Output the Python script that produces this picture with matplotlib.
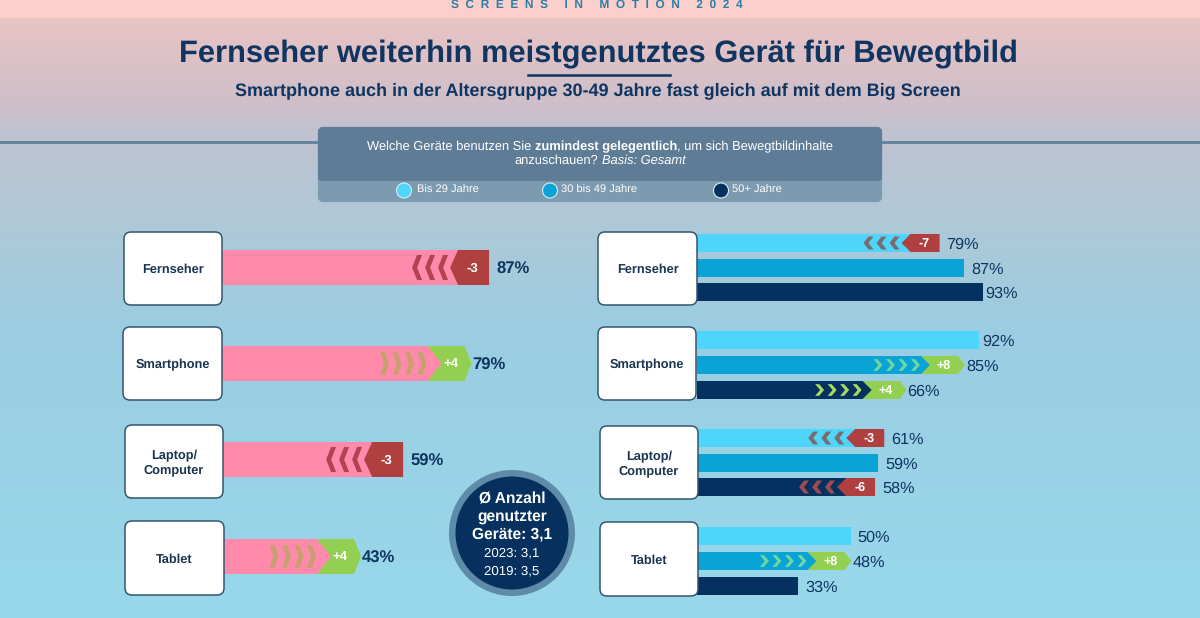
import numpy as np
import matplotlib
matplotlib.use("Agg")
import matplotlib.pyplot as plt
from matplotlib.patches import FancyBboxPatch, Circle, Polygon, Rectangle

plt.rcParams["font.family"] = ["Liberation Sans", "DejaVu Sans"]
plt.rcParams["text.hinting"] = "no_hinting"

# ---------------------------------------------------------------------------
# Data
# ---------------------------------------------------------------------------
devices = ["Fernseher", "Smartphone", "Laptop/\nComputer", "Tablet"]
age_groups = ["Bis 29 Jahre", "30 bis 49 Jahre", "50+ Jahre"]

total_values = [87, 79, 59, 43]
total_deltas = [-3, 4, -3, 4]

young_values = [79, 92, 61, 50]
young_deltas = [-7, 0, -3, 0]
middle_values = [87, 85, 59, 48]
middle_deltas = [0, 8, 0, 8]
old_values = [93, 66, 58, 33]
old_deltas = [0, 4, -6, 0]

avg_lines = ["Ø Anzahl", "genutzter", "Geräte: 3,1"]
avg_history = ["2023: 3,1", "2019: 3,5"]

# ---------------------------------------------------------------------------
# Layout and colours
# ---------------------------------------------------------------------------
W, H = 1200, 618
PX_PER_PCT = 3.07
NAVY = "#0f3560"
PINK = "#ff8aab"
RED = "#b04040"
GREEN = "#93cf50"
AGE_COLORS = ["#4dd5fb", "#0aa3d6", "#04315f"]
CHEVRON_NEG = ["#7d6a6a", None, "#a04a55"]
CHEVRON_POS = [None, "#6ed8a0", "#a8dc60"]

left_rows = [267.5, 363.5, 459.5, 556.5]
right_rows = [[243, 268, 292], [340, 365, 390], [438, 463, 487], [536, 561, 586]]
left_cards = [(124, 232, 98, 73), (123, 327, 99, 73), (125, 425, 98, 73), (125, 521, 99, 74)]
right_cards = [(598, 232, 99, 73), (598, 327, 98, 73), (600, 426, 98, 73), (600, 522, 98, 74)]

fig = plt.figure(figsize=(W / 100, H / 100), dpi=100)

# background gradient
ax_bg = fig.add_axes([0, 0, 1, 1], zorder=0)
ax_bg.set_xlim(0, W)
ax_bg.set_ylim(H, 0)
ax_bg.axis("off")
ys = np.arange(H)
stops = [17, 100, 140, 220, 330, 618]
reds = [234, 207, 190, 175, 155, 152]
greens = [196, 191, 195, 200, 205, 216]
blues = [196, 201, 210, 215, 225, 235]
grad = np.stack([np.interp(ys, stops, c) for c in (reds, greens, blues)], axis=1) / 255
ax_bg.imshow(grad[:, None, :], extent=[0, W, H, 0], aspect="auto", zorder=0)
ax_bg.add_patch(Rectangle((0, 0), W, 17, color="#fbcfcb", zorder=1))
ax_bg.plot([0, W], [142, 142], color="#5f7f9b", lw=2, zorder=1)


def bar_axes(x_start, width):
    ax = fig.add_axes([x_start / W, 0, width / W, 1], zorder=1)
    ax.patch.set_alpha(0)
    ax.set_xlim(0, width / PX_PER_PCT)
    ax.set_ylim(H, 0)
    ax.axis("off")
    return ax


def chevrons(ax, y, x_end, count, step, width, height, thick, color, pointing):
    # x_end is a pixel offset from the bar origin
    U = 1 / PX_PER_PCT
    for i in range(count):
        x0 = x_end - step * (count - 1 - i) - width
        if pointing > 0:
            pts = [(x0, y - height / 2), (x0 + thick, y - height / 2),
                   (x0 + width, y), (x0 + thick, y + height / 2),
                   (x0, y + height / 2), (x0 + width - thick, y)]
        else:
            pts = [(x0 + width, y - height / 2), (x0 + width - thick, y - height / 2),
                   (x0, y), (x0 + width - thick, y + height / 2),
                   (x0 + width, y + height / 2), (x0 + thick, y)]
        ax.add_patch(Polygon([(px * U, py) for px, py in pts], closed=True,
                             color=color, lw=0, zorder=3))


def draw_bar(ax, y, value, delta, height, color, large, neg_col, pos_col, font):
    U = 1 / PX_PER_PCT
    ax.barh(y, value, height=height, color=color, zorder=2)
    end = value * PX_PER_PCT
    h2 = height / 2
    pad = 7
    if delta < 0:
        tip, shoulder = (39, 31) if large else (38, 29)
        pts = [(end, y - h2), (end - shoulder, y - h2), (end - tip, y),
               (end - shoulder, y + h2), (end, y + h2)]
        ax.add_patch(Polygon([(a * U, b) for a, b in pts], closed=True, color=RED, lw=0, zorder=4))
        chev_h = height * 0.72
        chevrons(ax, y, end - tip - 2, 3, 13, 10, chev_h, 5, neg_col, -1)
        ax.text((end - shoulder + 14) * U, y + 0.5, f"{delta}", color="white", fontsize=font,
                fontweight="bold", ha="center", va="center", zorder=5)
    elif delta > 0:
        left, notch = (37, 23) if large else (37, 28)
        pts = [(end - left, y - h2), (end, y - h2), (end + 7, y), (end, y + h2),
               (end - left, y + h2), (end - notch, y)]
        ax.add_patch(Polygon([(a * U, b) for a, b in pts], closed=True, color=GREEN, lw=0, zorder=4))
        chev_h = height * 0.65
        chevrons(ax, y, end - left - 1, 4, 12.5, 9, chev_h, 5 if large else 4, pos_col, 1)
        ax.text((end - 14) * U, y + 0.5, f"+{delta}", color="white", fontsize=font,
                fontweight="bold", ha="center", va="center", zorder=5)
        pad = 8
    if value > 90:
        pad = 3
    ax.annotate(f"{value}%", xy=(value, y), xytext=(pad, -1.5), textcoords="offset pixels",
                color=NAVY, fontsize=12 if large else 11.7,
                fontweight="bold" if large else "normal", ha="left", va="center", zorder=5)


# left panel: all respondents
ax_left = bar_axes(222, 320)
for i, value in enumerate(total_values):
    draw_bar(ax_left, left_rows[i], value, total_deltas[i], 35, PINK, True,
             "#b5404f", "#c8a070", 9.5)

# right panel: per age group
ax_right = bar_axes(697, 330)
series = [young_values, middle_values, old_values]
series_deltas = [young_deltas, middle_deltas, old_deltas]
for g, vals in enumerate(series):
    for i, value in enumerate(vals):
        draw_bar(ax_right, right_rows[i][g], value, series_deltas[g][i], 18, AGE_COLORS[g], False,
                 CHEVRON_NEG[g], CHEVRON_POS[g], 9)

# overlay: headings, cards, legend, circle
ax = fig.add_axes([0, 0, 1, 1], zorder=2)
ax.patch.set_alpha(0)
ax.set_xlim(0, W)
ax.set_ylim(H, 0)
ax.axis("off")

ax.text(597, 4.5, "S  C  R  E  E  N  S     I  N     M  O  T  I  O  N     2  0  2  4", color="#2e7fa8",
        fontsize=8.6, fontweight="bold", ha="center", va="center")
ax.text(598, 54, "Fernseher weiterhin meistgenutztes Gerät für Bewegtbild", color=NAVY, fontsize=22.2,
        fontweight="bold", ha="center", va="center")
ax.plot([528, 670], [75, 75], color=NAVY, lw=1.8)
ax.text(598, 91, "Smartphone auch in der Altersgruppe 30-49 Jahre fast gleich auf mit dem Big Screen",
        color=NAVY, fontsize=13, fontweight="bold", ha="center", va="center")

ax.add_patch(FancyBboxPatch((320, 129), 560, 71, boxstyle="round,pad=0,rounding_size=3",
                            fc="#7c9ab0", ec="#7c9ab0", lw=3))
ax.add_patch(FancyBboxPatch((320, 129), 560, 50, boxstyle="round,pad=0,rounding_size=3",
                            fc="#5f7c97", ec="#5f7c97", lw=3))
ax.add_patch(Rectangle((318, 176), 564, 4, color="#5f7c97", lw=0))


def text_runs(y, runs, gap, size):
    # lay out differently styled pieces on one centred line
    renderer = fig.canvas.get_renderer()
    items = []
    for txt, weight, style in runs:
        t = ax.text(0, y, txt, color="white", fontsize=size, fontweight=weight, fontstyle=style,
                    ha="left", va="center")
        items.append((t, t.get_window_extent(renderer).width))
    total = sum(w for _, w in items) + sum(gap if r[0][0] != "," else 0 for r in runs[1:])
    x = 600 - total / 2
    for n, (t, w) in enumerate(items):
        if n > 0 and runs[n][0][0] != ",":
            x += gap
        t.set_x(x)
        x += w


text_runs(146.5, [("Welche Geräte benutzen Sie", "normal", "normal"),
                  ("zumindest gelegentlich", "bold", "normal"),
                  (", um sich Bewegtbildinhalte", "normal", "normal")], 3.5, 9.3)
text_runs(161, [("anzuschauen?", "normal", "normal"),
                ("Basis: Gesamt", "normal", "italic")], 3.5, 9.3)

legend_x = [404, 550, 721]
for i, label in enumerate(age_groups):
    ax.add_patch(Circle((legend_x[i], 190.5), 7.5, fc=AGE_COLORS[i], ec="#d8eef6", lw=0.8))
    ax.text(legend_x[i] + 13 if i == 0 else legend_x[i] + 11, 190, label, color="white", fontsize=8,
            ha="left", va="center")

for cards, labels in ((left_cards, devices), (right_cards, devices)):
    for (x, y, w, h), label in zip(cards, labels):
        ax.add_patch(FancyBboxPatch((x + 6, y + 6), w - 12, h - 12,
                                    boxstyle="round,pad=6,rounding_size=7",
                                    fc="white", ec="#34566f", lw=1.1))
        ax.text(x + w / 2, y + h / 2 + 1.5, label, color="#1a3550", fontsize=9.2, fontweight="bold",
                ha="center", va="center", linespacing=1.15)

ax.add_patch(Circle((512, 533), 63, fc="#5e8ba8", ec="none"))
ax.add_patch(Circle((512, 533), 56.5, fc="#06315f", ec="none"))
for y, line in zip([499, 516.5, 534], avg_lines):
    ax.text(512, y, line, color="white", fontsize=11.2, fontweight="bold", ha="center", va="center")
for y, line in zip([552.5, 570.5], avg_history):
    ax.text(512, y, line, color="white", fontsize=9.5, ha="center", va="center")

fig.savefig("out.png", dpi=100)
